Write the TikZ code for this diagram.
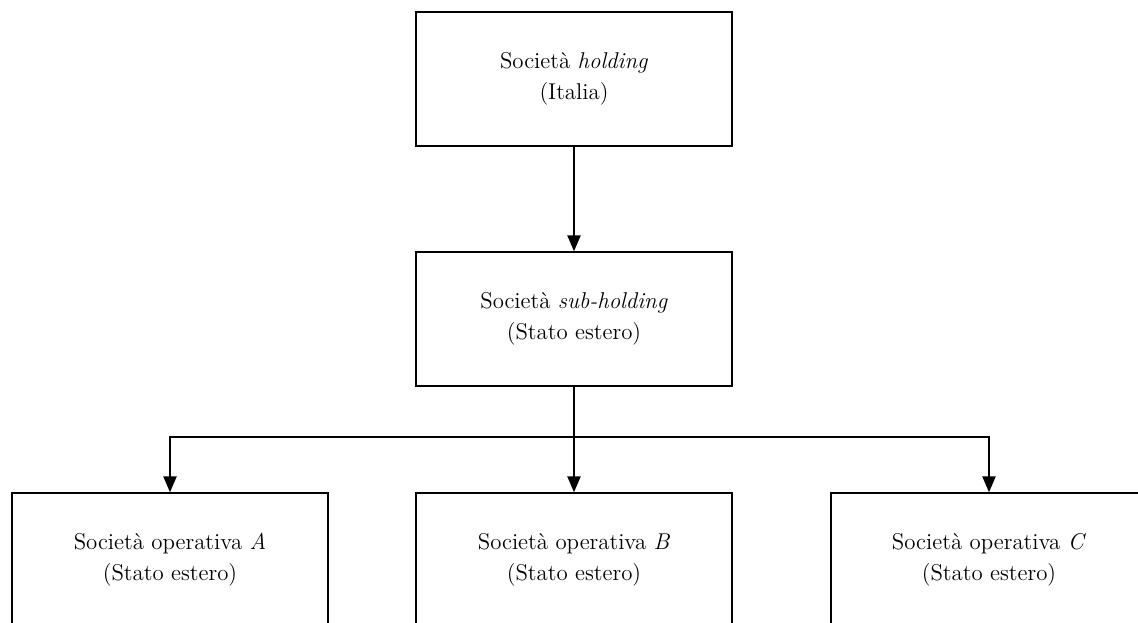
\documentclass[tikz,border=0pt]{standalone}
\usepackage{tikz}
\usetikzlibrary{shapes,arrows.meta,calc}
\tikzstyle{line} = [draw, line width=0.9pt, -{Triangle[length=9pt,width=7.5pt]}]
\tikzstyle{block} = [draw, rectangle, line width=0.9pt, text centered, align=center, minimum width=6.32cm, minimum height=2.68cm, font=\fontsize{13}{17.5}\selectfont]
\begin{document}
\begin{tikzpicture}[x=0.02cm, y=-0.02cm]
        \useasboundingbox (0,0) rectangle (1138,622);
        \node[block] (holding) at (574,79) {Società \textit{holding}\\(Italia)};
        \node[block] (sub) at (574,319) {Società \textit{sub-holding}\\(Stato estero)};
        \node[block] (opA) at (170,560) {Società operativa \textit{A}\\(Stato estero)};
        \node[block] (opB) at (574,560) {Società operativa \textit{B}\\(Stato estero)};
        \node[block] (opC) at (989,560) {Società operativa \textit{C}\\(Stato estero)};
        \path[line] (holding) -- (sub);
        \draw[line width=0.9pt] (sub.south) -- ++(0,50) coordinate (bus);
        \path[line] (bus) -| (opA.north);
        \path[line] (bus) -- (opB.north);
        \path[line] (bus) -| (opC.north);
    \end{tikzpicture}
\end{document}
